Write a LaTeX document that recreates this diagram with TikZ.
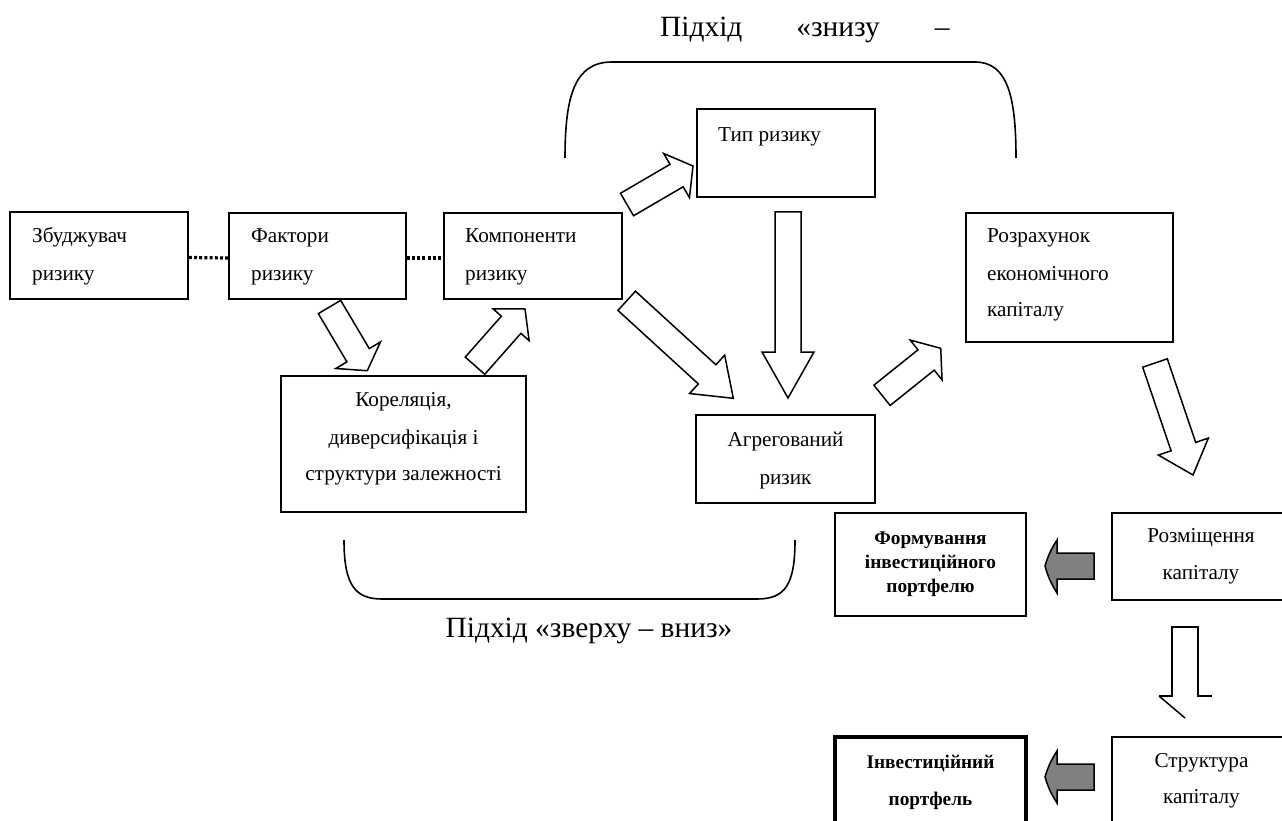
\documentclass[tikz,border=0pt]{standalone}
\usepackage{fontspec}
\setmainfont{Liberation Serif}
\usetikzlibrary{calc}

\tikzset{
  box/.style={draw, line width=1.6pt, inner sep=0pt},
  heavybox/.style={draw, line width=3.6pt, inner sep=0pt},
  txt/.style={inner sep=0pt, font=\fontsize{21.2}{24}\selectfont},
  btxt/.style={inner sep=0pt, font=\fontsize{19.3}{22}\selectfont\bfseries},
  ttl/.style={inner sep=0pt, font=\fontsize{29.4}{32}\selectfont},
  hollow/.style={draw, line width=1.5pt, fill=white, line join=miter},
  shaded/.style={draw, line width=1.5pt, fill=black!50, line join=miter},
  link/.style={line width=3.2pt, dash pattern=on 3pt off 2.2pt},
  brace/.style={line width=1.6pt},
}

% block arrow: tail, tip, shaft half-width, head half-width, head length, style
\newcommand\blockarrow[6]{%
  \path ($(#2)!#5!(#1)$) coordinate (ba-h);
  \draw[#6] ($(#1)!#3!90:(#2)$) -- ($(ba-h)!#3!-90:(#1)$) -- ($(ba-h)!#4!-90:(#1)$)
    -- (#2) -- ($(ba-h)!#4!90:(#1)$) -- ($(ba-h)!#3!90:(#1)$) -- ($(#1)!#3!-90:(#2)$) -- cycle;
}

\begin{document}
\begin{tikzpicture}[x=1pt,y=-1pt]
\useasboundingbox (0,0) rectangle (1282,821);
\clip (0,0) rectangle (1282,821);
\fill[white] (0,0) rectangle (1282,821);

% ---- boxes ----
\node[box, minimum width=178pt, minimum height=87pt] (drv) at (99,255.5) {};
\node[box, minimum width=177pt, minimum height=86pt] (fac) at (317.5,256) {};
\node[box, minimum width=178pt, minimum height=86pt] (cmp) at (533,256) {};
\node[box, minimum width=178pt, minimum height=88pt] (typ) at (786,153) {};
\node[box, minimum width=245pt, minimum height=136pt] (cor) at (403.5,444) {};
\node[box, minimum width=179pt, minimum height=88pt] (agg) at (785.5,459) {};
\node[box, minimum width=207pt, minimum height=129pt] (ec) at (1069.5,277.5) {};
\node[box, minimum width=191pt, minimum height=103pt] (form) at (930.5,564.5) {};
\node[box, minimum width=188pt, minimum height=87pt] (alloc) at (1206,556.5) {};
\node[box, minimum width=188pt, minimum height=100pt] (struct) at (1206,787) {};
\node[heavybox, minimum width=191pt, minimum height=100pt] (port) at (930.5,787) {};

% ---- box texts ----
\node[txt, anchor=base west] (drv1) at (32,243) {Збуджувач};
\node[txt, anchor=base west] (drv2) at (32,280) {ризику};
\node[txt, anchor=base west] (fac1) at (251,243) {Фактори};
\node[txt, anchor=base west] (fac2) at (251,280) {ризику};
\node[txt, anchor=base west] (cmp1) at (465,243) {Компоненти};
\node[txt, anchor=base west] (cmp2) at (465,280) {ризику};
\node[txt, anchor=base west] (typ1) at (718,141.7) {Тип ризику};
\node[txt, anchor=base west] (ec1) at (987,242) {Розрахунок};
\node[txt, anchor=base west] (ec2) at (987,280) {економічного};
\node[txt, anchor=base west] (ec3) at (987,316) {капіталу};
\node[txt, anchor=base] (cor1) at (403.5,406.7) {Кореляція,};
\node[txt, anchor=base] (cor2) at (403.5,444) {диверсифікація і};
\node[txt, anchor=base] (cor3) at (403.5,480) {структури залежності};
\node[txt, anchor=base] (agg1) at (785.5,446.7) {Агрегований};
\node[txt, anchor=base] (agg2) at (785.5,484) {ризик};
\node[btxt, anchor=base] (form1) at (930.5,544) {Формування};
\node[btxt, anchor=base] (form2) at (930.5,568.3) {інвестиційного};
\node[btxt, anchor=base] (form3) at (930.5,592.7) {портфелю};
\node[txt, anchor=base] (alloc1) at (1201,542.7) {Розміщення};
\node[txt, anchor=base] (alloc2) at (1201,579.3) {капіталу};
\node[txt, anchor=base] (struct1) at (1201.5,767.3) {Структура};
\node[txt, anchor=base] (struct2) at (1201.5,803.3) {капіталу};
\node[btxt, anchor=base] (port1) at (930.5,768.3) {Інвестиційний};
\node[btxt, anchor=base] (port2) at (930.5,805) {портфель};

% ---- approach captions ----
\node[ttl, anchor=base west] (up) at (660,36.7) {Підхід\hspace{54pt}«знизу\hspace{55pt}–};
\node[ttl, anchor=base] (down) at (589,637) {Підхід «зверху – вниз»};

% ---- brackets ----
\draw[brace] (565,158) .. controls (565,95) and (575,62) .. (612,62) -- (975,62)
  .. controls (1007,62) and (1016,95) .. (1016,158);
\draw[brace] (344,540) .. controls (344,585) and (355,599) .. (382,599) -- (757,599)
  .. controls (785,599) and (795,585) .. (795,540);

% ---- dotted links ----
\draw[link] ([yshift=-2pt]drv.east) -- ([yshift=-2pt]fac.west);
\draw[link] ([yshift=-2pt]fac.east) -- ([yshift=-2pt]cmp.west);

% ---- block arrows ----
\coordinate (a1s) at (627,204.5);   \coordinate (a1e) at (693,166);
\coordinate (a2s) at (626.7,300.8); \coordinate (a2e) at (733.3,398.3);
\coordinate (a3s) at (788,212);     \coordinate (a3e) at (788,398);
\coordinate (a4s) at (882,395.3);   \coordinate (a4e) at (940.7,348.3);
\coordinate (a5s) at (1155,363);    \coordinate (a5e) at (1193,475);
\coordinate (a6s) at (329.5,307);   \coordinate (a6e) at (367.3,370.7);
\coordinate (a7s) at (475,365.7);   \coordinate (a7e) at (525,309);

\blockarrow{a1s}{a1e}{13pt}{25.5pt}{19pt}{hollow}
\blockarrow{a2s}{a2e}{13pt}{26pt}{35.5pt}{hollow}
\blockarrow{a3s}{a3e}{13pt}{26pt}{46pt}{hollow}
\blockarrow{a4s}{a4e}{13pt}{25.5pt}{18.7pt}{hollow}
\blockarrow{a5s}{a5e}{13pt}{26.4pt}{30pt}{hollow}
\blockarrow{a6s}{a6e}{13pt}{26pt}{18pt}{hollow}
\blockarrow{a7s}{a7e}{13pt}{24pt}{21pt}{hollow}

% ---- grey arrows pointing left ----
\draw[shaded] (1045,566) to[bend left=8] (1057,540) -- (1057,553) -- (1094,553)
  -- (1094,579) -- (1057,579) -- (1057,593) to[bend left=8] cycle;
\draw[shaded] (1045,777) to[bend left=8] (1057,751) -- (1057,764) -- (1094,764)
  -- (1094,790) -- (1057,790) -- (1057,803) to[bend left=8] cycle;

% ---- open arrow between allocation and structure ----
\draw[line width=1.5pt, line join=miter] (1159,696) -- (1172,696) -- (1172,627) -- (1198,627)
  -- (1198,696) -- (1212,696);
\draw[line width=1.5pt] (1159,696) -- (1185,718);
\end{tikzpicture}
\end{document}
